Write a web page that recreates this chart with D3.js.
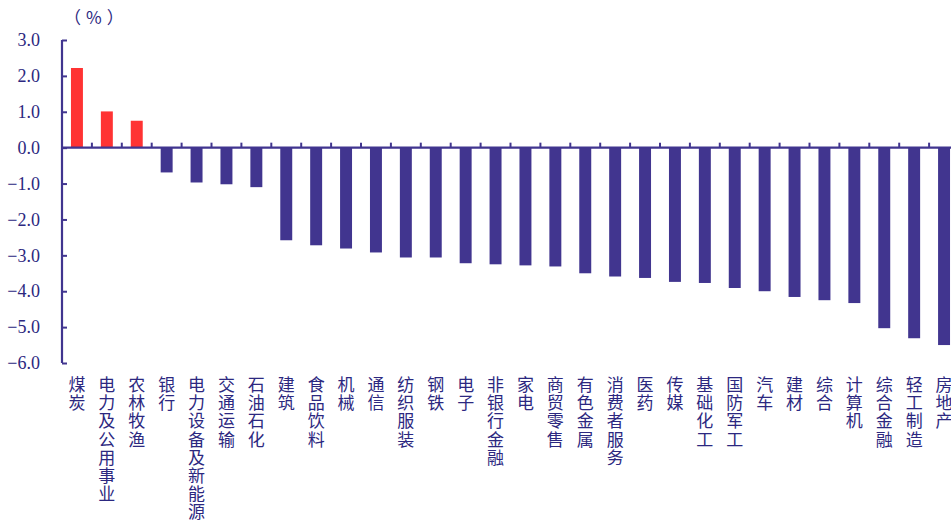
<!DOCTYPE html>
<html>
<head>
<meta charset="utf-8">
<script src="https://cdn.jsdelivr.net/npm/d3@7"></script>
<style>
  html, body { margin: 0; padding: 0; background: #fff; }
  svg { display: block; }
</style>
</head>
<body>
<svg id="chart" width="951" height="523"></svg>
<script>
// Industry names (left to right) and their weekly change in %
const categories = [
  "煤炭", "电力及公用事业", "农林牧渔", "银行", "电力设备及新能源", "交通运输",
  "石油石化", "建筑", "食品饮料", "机械", "通信", "纺织服装", "钢铁", "电子",
  "非银行金融", "家电", "商贸零售", "有色金属", "消费者服务", "医药", "传媒",
  "基础化工", "国防军工", "汽车", "建材", "综合", "计算机", "综合金融",
  "轻工制造", "房地产"
];
const values = [
  2.22, 1.01, 0.75, -0.69, -0.97, -1.02,
  -1.10, -2.58, -2.72, -2.81, -2.92, -3.06, -3.06, -3.22,
  -3.25, -3.28, -3.31, -3.50, -3.59, -3.63, -3.74,
  -3.77, -3.91, -4.00, -4.16, -4.25, -4.33, -5.03,
  -5.31, -5.50
];
const yTicks = [3, 2, 1, 0, -1, -2, -3, -4, -5, -6];
const unitLabel = "（%）";

const navy = "#41358f";
const red = "#ff3333";
const textColor = "#2c2880";

const svg = d3.select("#chart");

const x = d3.scaleBand()
  .domain(categories)
  .range([62, 959])
  .paddingInner(0.6)
  .paddingOuter(0.3);

const y = d3.scaleLinear()
  .domain([-6, 3])
  .range([363, 40]);

// Bars
svg.append("g")
  .selectAll("rect")
  .data(categories)
  .join("rect")
  .attr("x", d => x(d))
  .attr("width", x.bandwidth())
  .attr("y", (d, i) => Math.min(y(values[i]), y(0)))
  .attr("height", (d, i) => Math.abs(y(values[i]) - y(0)))
  .attr("fill", (d, i) => values[i] >= 0 ? red : navy);

// Y axis: inward ticks, serif labels
const yAxis = svg.append("g")
  .attr("transform", "translate(62,0)")
  .call(d3.axisLeft(y).tickValues(yTicks).tickSize(-5).tickPadding(22)
    .tickFormat(d3.format(".1f")));
yAxis.select(".domain")
  .attr("d", `M0,${y(3)}V${y(-6)}`)
  .attr("stroke", navy).attr("stroke-width", 2.2);
yAxis.selectAll(".tick line").attr("stroke", navy).attr("stroke-width", 2);
yAxis.selectAll(".tick text")
  .attr("fill", textColor)
  .attr("font-family", "'Liberation Serif', 'Times New Roman', serif")
  .attr("font-size", 18);

// X axis line at zero with upward ticks on category boundaries
const step = x.step();
const x0 = x.range()[0];
const boundaries = d3.range(categories.length + 1).map(k => x0 + k * step);
const xAxis = svg.append("g");
xAxis.append("line")
  .attr("x1", x0).attr("x2", x.range()[1])
  .attr("y1", y(0)).attr("y2", y(0))
  .attr("stroke", navy).attr("stroke-width", 2.2);
xAxis.selectAll("line.tick")
  .data(boundaries.slice(1))
  .join("line")
  .attr("class", "tick")
  .attr("x1", d => d).attr("x2", d => d)
  .attr("y1", y(0)).attr("y2", y(0) - 5)
  .attr("stroke", navy).attr("stroke-width", 2);

// Vertical category labels, one character per line
const labels = svg.append("g")
  .attr("fill", textColor)
  .attr("font-family", "'Noto Sans CJK SC', sans-serif")
  .attr("font-size", 17)
  .attr("text-anchor", "middle");
labels.selectAll("text")
  .data(categories)
  .join("text")
  .each(function (d) {
    const cx = x(d) + x.bandwidth() / 2;
    d3.select(this).selectAll("tspan")
      .data(Array.from(d))
      .join("tspan")
      .attr("x", cx)
      .attr("y", (c, j) => 391 + j * 18.2)
      .text(c => c);
  });

// Unit label
svg.append("text")
  .attr("x", 64).attr("y", 24)
  .attr("text-anchor", "start")
  .attr("fill", textColor)
  .attr("font-family", "'Noto Sans CJK SC', sans-serif")
  .attr("font-size", 17)
  .attr("letter-spacing", 5)
  .text(unitLabel);
</script>
</body>
</html>
